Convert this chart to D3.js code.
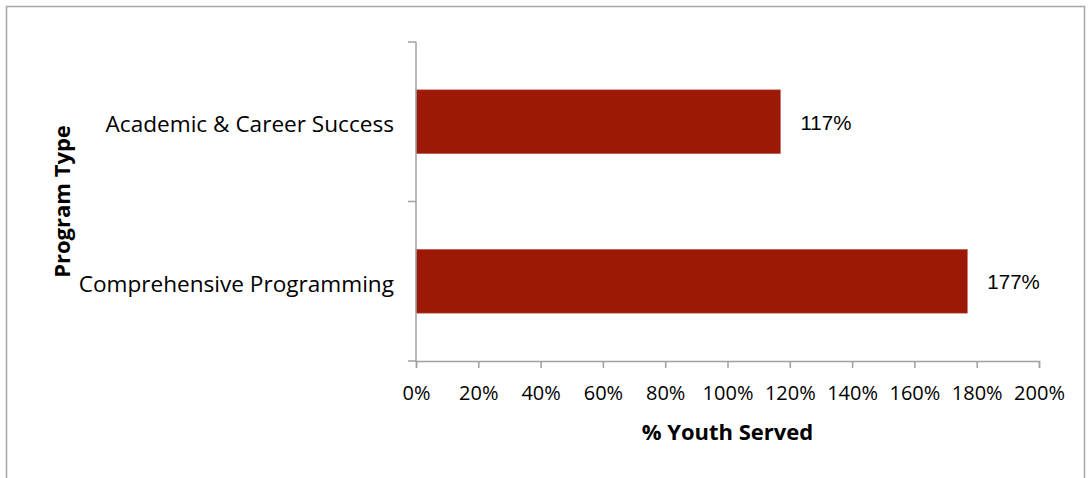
<!DOCTYPE html>
<html>
<head>
<meta charset="utf-8">
<script src="https://cdn.jsdelivr.net/npm/d3@7"></script>
<style>
  html, body { margin: 0; padding: 0; background: #fff; }
  svg { display: block; }
</style>
</head>
<body>
<svg id="chart" width="1088" height="478"></svg>
<script>
// Program types, top to bottom
const categories = ["Academic & Career Success", "Comprehensive Programming"];
// Share of target youth served, in percent
const values = [117, 177];
// Tick values on the percent axis
const ticks = [0, 20, 40, 60, 80, 100, 120, 140, 160, 180, 200];

const svg = d3.select("#chart");
const W = 1088, H = 478;

// outer frame
svg.append("rect")
  .attr("x", 6.5).attr("y", 6.5)
  .attr("width", W - 10).attr("height", H)
  .attr("fill", "#fff").attr("stroke", "#a6a6a6").attr("stroke-width", 1.5);

const plotL = 416, plotR = 1039, plotT = 42, plotB = 361;
const axisColor = "#a0a0a0";
const font = "'Open Sans', sans-serif";

const x = d3.scaleLinear().domain([0, 200]).range([plotL, plotR]);
const y = d3.scaleBand().domain(categories).range([plotT, plotB]).paddingInner(0.6).paddingOuter(0.3);

// bars
svg.append("g").selectAll("rect")
  .data(categories)
  .join("rect")
  .attr("x", x(0))
  .attr("y", d => y(d))
  .attr("width", (d, i) => x(values[i]) - x(0))
  .attr("height", y.bandwidth())
  .attr("fill", "#9b1906")
  .attr("stroke", "#c0605a")
  .attr("stroke-width", 0.6);

// value labels
svg.append("g").selectAll("text")
  .data(categories)
  .join("text")
  .attr("x", (d, i) => x(values[i]) + 20)
  .attr("y", d => y(d) + y.bandwidth() / 2 + 1)
  .attr("dy", "0.35em")
  .attr("font-family", "'Liberation Sans', Arial, sans-serif")
  .attr("font-size", 20.5)
  .attr("fill", "#000")
  .text((d, i) => values[i] + "%");

// y axis: line with ticks at band boundaries
const yAxis = svg.append("g");
yAxis.append("line")
  .attr("x1", plotL).attr("x2", plotL).attr("y1", plotT).attr("y2", plotB)
  .attr("stroke", axisColor).attr("stroke-width", 1.5);
const boundaries = d3.range(categories.length + 1).map(i => plotT + i * (plotB - plotT) / categories.length);
yAxis.selectAll("line.tick")
  .data(boundaries)
  .join("line")
  .attr("class", "tick")
  .attr("x1", plotL - 8).attr("x2", plotL)
  .attr("y1", d => d).attr("y2", d => d)
  .attr("stroke", axisColor).attr("stroke-width", 1.5);

// category labels
svg.append("g").selectAll("text")
  .data(categories)
  .join("text")
  .attr("x", plotL - 22)
  .attr("y", (d, i) => (boundaries[i] + boundaries[i + 1]) / 2 + 2.5)
  .attr("dy", "0.35em")
  .attr("text-anchor", "end")
  .attr("font-family", font)
  .attr("font-size", 22.6)
  .attr("fill", "#000")
  .text(d => d);

// x axis
const xAxis = d3.axisBottom(x)
  .tickValues(ticks)
  .tickSize(7)
  .tickPadding(18)
  .tickFormat(d => d + "%");
const gx = svg.append("g")
  .attr("transform", `translate(0,${plotB})`)
  .call(xAxis);
gx.select(".domain").attr("stroke", axisColor).attr("stroke-width", 1.5);
gx.selectAll(".tick line").attr("stroke", axisColor).attr("stroke-width", 1.5);
gx.selectAll(".tick text")
  .attr("font-family", font)
  .attr("font-size", 20)
  .attr("fill", "#000");

// axis titles
svg.append("text")
  .attr("x", (plotL + plotR) / 2)
  .attr("y", 432)
  .attr("dy", "0.35em")
  .attr("text-anchor", "middle")
  .attr("font-family", font)
  .attr("font-weight", "bold")
  .attr("font-size", 22)
  .attr("fill", "#000")
  .text("% Youth Served");

svg.append("text")
  .attr("transform", `translate(62,${(plotT + plotB) / 2}) rotate(-90)`)
  .attr("dy", "0.35em")
  .attr("text-anchor", "middle")
  .attr("font-family", font)
  .attr("font-weight", "bold")
  .attr("font-size", 22)
  .attr("fill", "#000")
  .text("Program Type");
</script>
</body>
</html>
